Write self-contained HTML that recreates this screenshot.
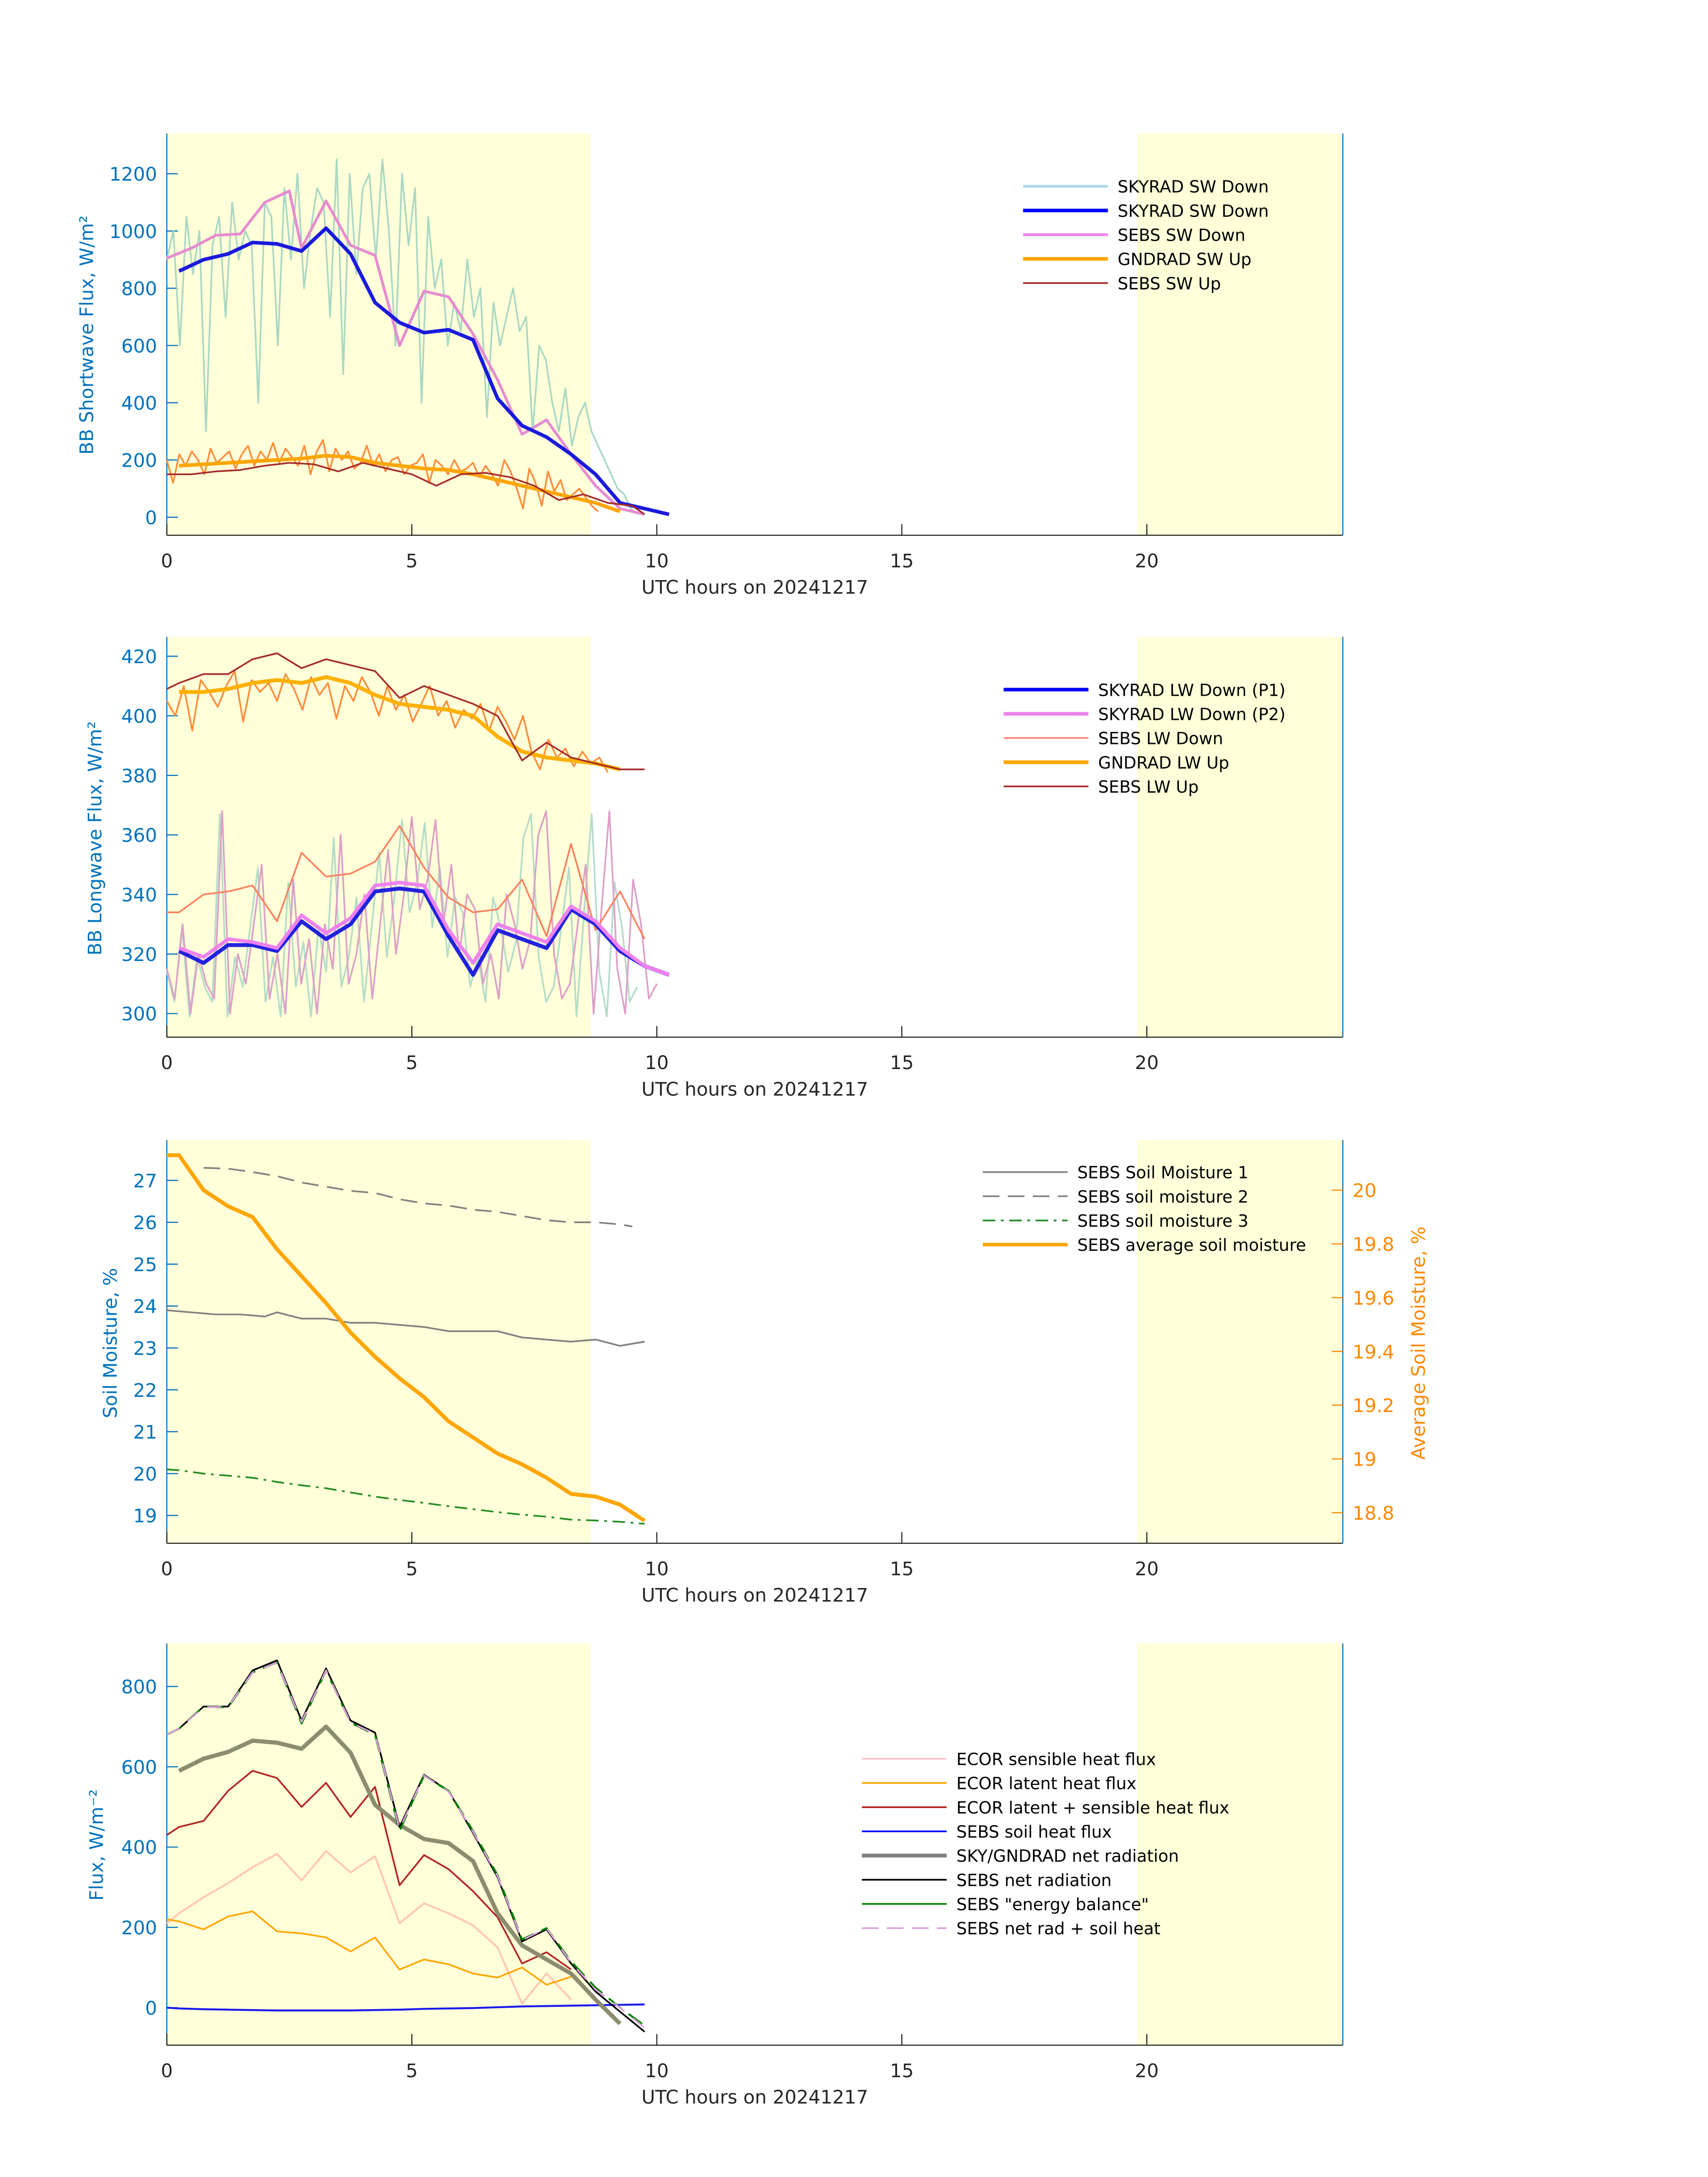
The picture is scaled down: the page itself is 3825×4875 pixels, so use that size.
<!DOCTYPE html>
<html><head><meta charset="utf-8"><style>
html,body{margin:0;padding:0;background:#fff}
svg{display:block}
text{font-family:"DejaVu Sans","Liberation Sans",sans-serif}
</style></head><body>
<svg id="fig" xmlns="http://www.w3.org/2000/svg" width="3825" height="4875" viewBox="0 0 1228.7 1565.8" preserveAspectRatio="none"></svg>
<script>
// ---------- data ----------
const p1_skyDownT=[0.25,0.75,1.25,1.75,2.25,2.75,3.25,3.75,4.25,4.75,5.25,5.75,6.25,6.75,7.25,7.75,8.25,8.75,9.25,9.75,10.25];
const p1_skyDown=[860,900,920,960,955,930,1010,920,750,680,645,655,620,415,320,280,220,150,50,30,10];
const p1_sebsDownT=[0,0.5,1,1.5,2,2.5,2.75,3.25,3.75,4.25,4.75,5.25,5.75,6.25,6.75,7.25,7.75,8.25,8.75,9.25,9.75];
const p1_sebsDown=[905,940,985,990,1100,1140,940,1105,950,915,600,790,770,640,480,290,340,220,110,30,10];
const p1_sebsUpT=[0,0.5,1,1.5,2,2.5,3,3.5,4,4.5,5,5.5,6,6.5,7,7.5,8,8.5,9,9.5,9.75];
const p1_sebsUp=[150,150,160,165,180,190,185,160,190,170,150,110,150,155,140,110,60,80,50,40,10];
const p1_gndUpT=[0.25,0.75,1.25,1.75,2.25,2.75,3.25,3.75,4.25,4.75,5.25,5.75,6.25,6.75,7.25,7.75,8.25,8.75,9.25];
const p1_gndUp=[180,185,190,195,200,205,215,210,190,180,170,165,150,130,110,90,70,50,20];
const p1_noisyDown=[900,1000,600,1050,850,1000,300,950,1050,700,1100,900,1000,950,400,1100,1050,600,1150,900,1200,800,1000,1150,1100,700,1250,500,1200,850,1150,1200,900,1250,1000,600,1200,950,1150,400,1050,800,900,600,750,650,900,700,800,350,750,600,700,800,650,700,300,600,550,400,300,450,250,350,400,300,250,200,150,100,80,30,10];
const p1_noisyUp=[200,120,220,180,230,200,150,240,190,210,230,170,220,250,180,230,200,260,190,240,210,180,250,150,230,270,160,240,200,230,170,190,250,180,220,160,200,210,150,180,190,220,120,200,180,150,200,160,170,190,140,180,150,110,200,160,100,30,170,120,40,160,90,130,60,80,100,70,40,20];

const p2_p1T=[0.25,0.75,1.25,1.75,2.25,2.75,3.25,3.75,4.25,4.75,5.25,5.75,6.25,6.75,7.25,7.75,8.25,8.75,9.25,9.75,10.25];
const p2_p1=[321,317,323,323,321,331,325,330,341,342,341,326,313,328,325,322,335,330,321,316,313];
const p2_p2=[322,319,325,324,322,333,327,332,343,344,343,328,317,330,327,324,336,331,322,316,313];
const p2_sebsDownT=[0,0.25,0.75,1.25,1.75,2.25,2.75,3.25,3.75,4.25,4.75,5.25,5.75,6.25,6.75,7.25,7.75,8.25,8.75,9.25,9.75];
const p2_sebsDown=[334,334,340,341,343,331,354,346,347,351,363,349,339,334,335,345,326,357,328,341,325];
const p2_gndUpT=[0.25,0.75,1.25,1.75,2.25,2.75,3.25,3.75,4.25,4.75,5.25,5.75,6.25,6.75,7.25,7.75,8.25,8.75,9.25];
const p2_gndUp=[408,408,409,411,412,411,413,411,407,404,403,402,400,393,388,386,385,384,382];
const p2_sebsUpT=[0,0.25,0.75,1.25,1.75,2.25,2.75,3.25,3.75,4.25,4.75,5.25,5.75,6.25,6.75,7.25,7.75,8.25,8.75,9.25,9.75];
const p2_sebsUp=[409,411,414,414,419,421,416,419,417,415,406,410,407,404,400,385,391,386,384,382,382];
const p2_noisyDown=[315,305,330,300,320,310,305,368,300,320,310,330,350,305,320,300,345,310,325,300,330,315,360,310,320,340,305,330,355,320,340,366,335,345,365,330,350,320,340,335,310,320,305,340,330,315,325,360,368,320,305,310,330,350,300,335,368,315,300,345,330,305,310];
const p2_noisyUp=[405,400,410,395,412,408,403,410,415,398,412,408,411,405,414,409,402,413,407,411,399,410,405,413,408,400,410,402,407,398,404,410,400,405,396,402,399,404,395,403,398,392,400,388,382,392,386,389,383,388,384,386,381];

const p3_sm1T=[0,0.5,1,1.5,2,2.25,2.75,3.25,3.75,4.25,4.75,5.25,5.75,6.25,6.75,7.25,7.75,8.25,8.75,9.25,9.75];
const p3_sm1=[23.9,23.85,23.8,23.8,23.75,23.85,23.7,23.7,23.6,23.6,23.55,23.5,23.4,23.4,23.4,23.25,23.2,23.15,23.2,23.05,23.15];
const p3_sm2T=[0.75,1.25,1.75,2.25,2.75,3.25,3.75,4.25,4.75,5.25,5.75,6.25,6.75,7.25,7.75,8.25,8.75,9.25,9.5];
const p3_sm2=[27.3,27.28,27.2,27.1,26.95,26.85,26.75,26.7,26.55,26.45,26.4,26.3,26.25,26.15,26.05,26.0,26.0,25.95,25.9];
const p3_sm3T=[0,0.25,0.75,1.25,1.75,2.25,2.75,3.25,3.75,4.25,4.75,5.25,5.75,6.25,6.75,7.25,7.75,8.25,8.75,9.25,9.75];
const p3_sm3=[20.1,20.08,20.0,19.95,19.9,19.8,19.72,19.65,19.55,19.45,19.37,19.3,19.22,19.15,19.08,19.02,18.97,18.9,18.88,18.85,18.8];
const p3_avgT=[0,0.25,0.75,1.25,1.75,2.25,2.75,3.25,3.75,4.25,4.75,5.25,5.75,6.25,6.75,7.25,7.75,8.25,8.75,9.25,9.75];
const p3_avg=[20.13,20.13,20.0,19.94,19.9,19.78,19.68,19.58,19.47,19.38,19.3,19.23,19.14,19.08,19.02,18.98,18.93,18.87,18.86,18.83,18.77];

const p4_T=[0,0.25,0.75,1.25,1.75,2.25,2.75,3.25,3.75,4.25,4.75,5.25,5.75,6.25,6.75,7.25,7.75,8.25,8.75,9.25,9.75];
const p4_net=[680,695,750,750,840,865,715,845,715,685,450,580,540,435,325,165,195,110,40,-10,-60];
const p4_energy=[680,695,750,748,835,860,708,840,710,680,440,578,540,440,330,170,198,115,50,0,-45];
const p4_netsoil=[680,695,748,750,835,860,712,840,710,682,445,578,538,438,328,168,198,112,45,0,-50];
const p4_skyT=[0.25,0.75,1.25,1.75,2.25,2.75,3.25,3.75,4.25,4.75,5.25,5.75,6.25,6.75,7.25,7.75,8.25,8.75,9.25];
const p4_sky=[590,620,637,665,660,645,700,635,505,455,420,410,365,235,155,120,85,20,-40];
const p4_fluxT=[0,0.25,0.75,1.25,1.75,2.25,2.75,3.25,3.75,4.25,4.75,5.25,5.75,6.25,6.75,7.25,7.75,8.25];
const p4_lhsh=[430,450,465,540,590,572,500,560,475,550,305,380,345,290,225,110,138,95];
const p4_sh=[210,235,275,310,350,383,317,390,337,377,210,260,235,205,150,10,85,20];
const p4_lh=[220,215,195,227,240,190,185,175,140,175,95,120,108,85,75,100,57,77];
const p4_soil=[0,-2,-4,-5,-6,-7,-7,-7,-7,-6,-5,-3,-2,-1,1,3,4,5,6,7,8];

const xTicks=[0,5,10,15,20];
const p1_yTicks=[0,200,400,600,800,1000,1200];
const p2_yTicks=[300,320,340,360,380,400,420];
const p3_yTicks=[19,20,21,22,23,24,25,26,27];
const p3_y2Ticks=[18.8,19,19.2,19.4,19.6,19.8,20];
const p4_yTicks=[0,200,400,600,800];

// ---------- drawing ----------
const NS="http://www.w3.org/2000/svg";
const svg=document.getElementById('fig');
const X0=120,X1=966;
function xs(h){return X0+h*(X1-X0)/24;}
function mk(tag,attrs,parent){const e=document.createElementNS(NS,tag);for(const k in attrs)e.setAttribute(k,attrs[k]);(parent||svg).appendChild(e);return e;}
function txt(x,y,s,attrs){const e=mk('text',Object.assign({x:x,y:y},attrs||{}));e.textContent=s;return e;}

function panel(top,bot,ya,yb,va,vb){
  return {top:top,bot:bot,y:v=>ya+(v-va)*(yb-ya)/(vb-va)};
}
function drawAxes(P,yTicks,ylabel,idx){
  const bg=mk('rect',{x:X0,y:P.top,width:xs(8.65)-X0,height:P.bot-P.top,fill:'#ffffd9'});
  
  
  const bg2=mk('rect',{x:xs(19.8),y:P.top,width:X1-xs(19.8),height:P.bot-P.top,fill:'#ffffd9'});
  
  
  const g=mk('g',{});
  
  
  mk('line',{x1:X0,y1:P.bot,x2:X1,y2:P.bot,stroke:'#262626','stroke-width':0.8},g);
  mk('line',{x1:X0,y1:P.top,x2:X0,y2:P.bot,stroke:'#0072bd','stroke-width':0.8},g);
  mk('line',{x1:X1,y1:P.top,x2:X1,y2:P.bot,stroke:'#0072bd','stroke-width':0.8},g);
  xTicks.forEach(t=>{
    mk('line',{x1:xs(t),y1:P.bot,x2:xs(t),y2:P.bot-8,stroke:'#262626','stroke-width':0.8},g);
    const l=txt(xs(t),P.bot+23,String(t),{'font-size':13.5,'text-anchor':'middle',fill:'#262626'});
    
    
  });
  yTicks.forEach(t=>{
    mk('line',{x1:X0,y1:P.y(t),x2:X0+8,y2:P.y(t),stroke:'#0072bd','stroke-width':0.8},g);
    const l=txt(X0-7,P.y(t)+5,String(t),{'font-size':13.5,'text-anchor':'end',fill:'#0072bd'});
    
    
  });
  const xl=txt((X0+X1)/2,P.bot+42,'UTC hours on 20241217',{'font-size':13.5,'text-anchor':'middle',fill:'#262626'});
  
  
  return g;
}
function line(P,T,V,stroke,w,name,dash){
  const pts=V.map((v,i)=>xs(T[i]).toFixed(2)+','+P.y(v).toFixed(2)).join(' ');
  const a={points:pts,fill:'none',stroke:stroke,'stroke-width':w,'stroke-linejoin':'round'};
  if(dash)a['stroke-dasharray']=dash;
  const e=mk('polyline',a);
  
  
  return e;
}
function evenT(V,t0,t1){return V.map((v,i)=>t0+i*(t1-t0)/(V.length-1));}
function legend(x,y,dy,items,idx){
  const g=mk('g',{});
  
  
  items.forEach((it,i)=>{
    const yy=y+i*dy;
    const a={x1:x,y1:yy,x2:x+61,y2:yy,stroke:it[1],'stroke-width':it[2]};
    if(it[3])a['stroke-dasharray']=it[3];
    mk('line',a,g);
    const t=txt(x+68,yy+4.5,it[0],{'font-size':12,fill:'#000'});
    g.appendChild(t);
    
    
  });
}
function ylab(x,y,s,color,name,rot){
  const e=txt(x,y,s,{'font-size':13.5,'text-anchor':'middle',fill:color,transform:'rotate('+(rot||-90)+' '+x+' '+y+')'});
  
  
  return e;
}

// Panel 1
const P1=panel(96,385,372,125,0,1200);
drawAxes(P1,p1_yTicks,'',1);
line(P1,evenT(p1_noisyDown,0,9.6),p1_noisyDown,'#a9d8c4',1.2,'skyrad-sw-down-raw');
line(P1,evenT(p1_noisyUp,0,8.8),p1_noisyUp,'#ff8c3a',1.2,'gndrad-sw-up-raw');
line(P1,p1_sebsDownT,p1_sebsDown,'#e58ccf',2,'sebs-sw-down');
line(P1,p1_skyDownT,p1_skyDown,'#1a1add',2.6,'skyrad-sw-down');
line(P1,p1_gndUpT,p1_gndUp,'#ffa500',2.6,'gndrad-sw-up');
line(P1,p1_sebsUpT,p1_sebsUp,'#a52a2a',1.2,'sebs-sw-up');
ylab(67,241,'BB Shortwave Flux, W/m²','#0072bd','y-axis-title-1');
legend(736,134,17.4,[['SKYRAD SW Down','#add8e6',2],['SKYRAD SW Down','#0000ff',2.6],['SEBS SW Down','#ee82ee',2],['GNDRAD SW Up','#ffa500',2.6],['SEBS SW Up','#a52a2a',1.2]],1);

// Panel 2
const P2=panel(458,746,729,472,300,420);
drawAxes(P2,p2_yTicks,'',2);
line(P2,evenT(p2_noisyDown,0,9.6),p2_noisyDown.map(v=>v-1),'#b4dcc8',1.2,'skyrad-lw-down-raw-p1');
line(P2,evenT(p2_noisyDown,0,10),p2_noisyDown,'#dca0c8',1.2,'skyrad-lw-down-raw-p2');
line(P2,evenT(p2_noisyUp,0,9.0),p2_noisyUp,'#ff8c3a',1.2,'gndrad-lw-up-raw');
line(P2,p2_sebsDownT,p2_sebsDown,'#fa8060',1.2,'sebs-lw-down');
line(P2,p2_p1T,p2_p1,'#2222dd',2.8,'skyrad-lw-down-p1');
line(P2,p2_p1T,p2_p2,'#ee82ee',2.6,'skyrad-lw-down-p2');
line(P2,p2_gndUpT,p2_gndUp,'#ffb000',2.8,'gndrad-lw-up');
line(P2,p2_sebsUpT,p2_sebsUp,'#a52a2a',1.2,'sebs-lw-up');
ylab(73,603,'BB Longwave Flux, W/m²','#0072bd','y-axis-title-2');
legend(722,496,17.4,[['SKYRAD LW Down (P1)','#0000ff',2.6],['SKYRAD LW Down (P2)','#ee82ee',2.6],['SEBS LW Down','#fa8072',1.2],['GNDRAD LW Up','#ffa500',2.6],['SEBS LW Up','#a52a2a',1.2]],2);

// Panel 3
const P3=panel(820,1110,1090,849,19,27);
const P3r=panel(820,1110,1088,856,18.8,20);
drawAxes(P3,p3_yTicks,'',3);
p3_y2Ticks.forEach(t=>{
  mk('line',{x1:X1,y1:P3r.y(t),x2:X1-8,y2:P3r.y(t),stroke:'#ff8800','stroke-width':0.8});
  const l=txt(X1+7,P3r.y(t)+5,String(t),{'font-size':13.5,fill:'#ff8800'});
  
  
});
line(P3,p3_sm1T,p3_sm1,'#808080',1.2,'sebs-soil-moisture-1');
line(P3,p3_sm2T,p3_sm2,'#808080',1.2,'sebs-soil-moisture-2','12,6');
line(P3,p3_sm3T,p3_sm3,'#228b22',1.2,'sebs-soil-moisture-3','9,4,2,4');
line(P3r,p3_avgT,p3_avg,'#ffa500',2.8,'sebs-average-soil-moisture');
ylab(84,966,'Soil Moisture, %','#0072bd','y-axis-title-3');
ylab(1025,966,'Average Soil Moisture, %','#ff8800','y2-axis-title-3');
legend(707,843,17.4,[['SEBS Soil Moisture 1','#808080',1.2],['SEBS soil moisture 2','#808080',1.2,'12,6'],['SEBS soil moisture 3','#228b22',1.2,'9,4,2,4'],['SEBS average soil moisture','#ffa500',2.6]],3);

// Panel 4
const P4=panel(1182,1471,1444,1213,0,800);
drawAxes(P4,p4_yTicks,'',4);
line(P4,p4_fluxT,p4_sh,'#ffc8b4',1.4,'ecor-sensible-heat-flux');
line(P4,p4_fluxT,p4_lh,'#ffa500',1.2,'ecor-latent-heat-flux');
line(P4,p4_fluxT,p4_lhsh,'#b22222',1.2,'ecor-latent-plus-sensible');
line(P4,p4_T,p4_soil,'#1a1aee',1.4,'sebs-soil-heat-flux');
line(P4,p4_skyT,p4_sky,'#8c8c6e',3,'sky-gndrad-net-radiation');
line(P4,p4_T,p4_net,'#000000',1.2,'sebs-net-radiation');
line(P4,p4_T,p4_energy,'#008000',1.4,'sebs-energy-balance','12,6');
line(P4,p4_T,p4_netsoil,'#dda0dd',1.2,'sebs-net-rad-plus-soil-heat','10,8');
ylab(74,1327,'Flux, W/m⁻²','#0072bd','y-axis-title-4');
legend(620,1265,17.4,[['ECOR sensible heat flux','#ffc0cb',1.2],['ECOR latent heat flux','#ffa500',1.2],['ECOR latent + sensible heat flux','#b22222',1.2],['SEBS soil heat flux','#0000ff',1.2],['SKY/GNDRAD net radiation','#808080',2.8],['SEBS net radiation','#000000',1.2],['SEBS "energy balance"','#008000',1.2],['SEBS net rad + soil heat','#dda0dd',1.2,'12,6']],4);
</script>
</body></html>
